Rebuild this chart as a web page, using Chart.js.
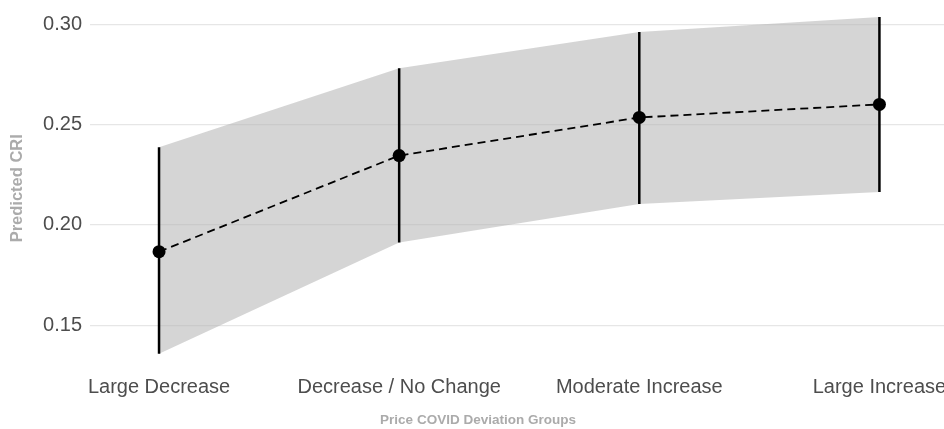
<!DOCTYPE html>
<html>
<head>
<meta charset="utf-8">
<script src="https://cdn.jsdelivr.net/npm/chart.js@4.4.1/dist/chart.umd.min.js"></script>
<style>
  html, body { margin: 0; padding: 0; background: #fff; overflow: hidden; }
  #wrap { width: 1030px; height: 429px; position: relative; }
</style>
</head>
<body>
<div id="wrap"><canvas id="criChart"></canvas></div>
<script>
const categories = ['Large Decrease', 'Decrease / No Change', 'Moderate Increase', 'Large Increase'];
const predicted = [0.1866, 0.2345, 0.2535, 0.2600];
const lower = [0.1358, 0.1912, 0.2104, 0.2164];
const upper = [0.2386, 0.2780, 0.2961, 0.3036];
const yTicks = [0.15, 0.20, 0.25, 0.30];

const xTitle = 'Price COVID Deviation Groups';
const yTitle = 'Predicted CRI';

const toXY = (arr) => arr.map((v, i) => ({ x: i, y: v }));

// one short vertical segment per group for the error bars
const errorBars = categories.map((c, i) => ({
    data: [{ x: i, y: lower[i] }, { x: i, y: upper[i] }],
    borderColor: '#000',
    borderWidth: 2.5,
    pointRadius: 0,
    fill: false,
    order: 1
}));

const xTitlePlugin = {
    id: 'xTitlePlugin',
    afterDraw(chart) {
        const ctx = chart.ctx;
        ctx.save();
        ctx.font = 'bold 13.5px "Liberation Sans", Arial, sans-serif';
        ctx.fillStyle = '#ababab';
        ctx.textAlign = 'center';
        ctx.textBaseline = 'middle';
        ctx.fillText(xTitle, 478, 420);
        ctx.restore();
    }
};

document.addEventListener('DOMContentLoaded', function () {
    const ctx = document.getElementById('criChart').getContext('2d');

    new Chart(ctx, {
        type: 'line',
        data: {
            datasets: [
                {
                    data: toXY(upper),
                    borderWidth: 0,
                    pointRadius: 0,
                    backgroundColor: 'rgba(179,179,179,0.55)',
                    fill: '+1',
                    order: 3
                },
                {
                    data: toXY(lower),
                    borderWidth: 0,
                    pointRadius: 0,
                    fill: false,
                    order: 3
                },
                {
                    data: toXY(predicted),
                    borderColor: '#000',
                    borderWidth: 1.8,
                    borderDash: [8, 5],
                    pointRadius: 6.5,
                    pointBorderWidth: 0,
                    pointBackgroundColor: '#000',
                    fill: false,
                    order: 0
                },
                ...errorBars
            ]
        },
        options: {
            responsive: true,
            maintainAspectRatio: false,
            animation: false,
            layout: { padding: 0 },
            plugins: {
                legend: { display: false },
                tooltip: { enabled: false }
            },
            scales: {
                x: {
                    type: 'linear',
                    min: -0.2875,
                    max: 3.6,
                    grid: { display: false, drawTicks: false },
                    border: { display: false },
                    afterBuildTicks: (axis) => {
                        axis.ticks = categories.map((c, i) => ({ value: i }));
                    },
                    afterFit: (axis) => {
                        axis.height = 59;
                        axis.paddingLeft = 0;
                        axis.paddingRight = 0;
                    },
                    ticks: {
                        autoSkip: false,
                        maxRotation: 0,
                        padding: 5,
                        color: '#4d4d4d',
                        font: { family: '"Liberation Sans", Arial, sans-serif', size: 20 },
                        callback: (v) => categories[v]
                    }
                },
                y: {
                    min: 0.12765,
                    max: 0.3088,
                    grid: { color: '#e6e6e6', lineWidth: 1.2, drawTicks: false },
                    border: { display: false },
                    afterBuildTicks: (axis) => {
                        axis.ticks = yTicks.map(v => ({ value: v }));
                    },
                    afterFit: (axis) => {
                        axis.width = 90;
                        axis.paddingTop = 0;
                        axis.paddingBottom = 0;
                    },
                    ticks: {
                        padding: 8,
                        color: '#4d4d4d',
                        font: { family: '"Liberation Sans", Arial, sans-serif', size: 20 },
                        callback: (v) => v.toFixed(2)
                    },
                    title: {
                        display: true,
                        text: yTitle,
                        color: '#ababab',
                        padding: { top: 7.5, bottom: 0 },
                        font: { family: '"Liberation Sans", Arial, sans-serif', size: 16.5, weight: 'bold' }
                    }
                }
            }
        },
        plugins: [xTitlePlugin]
    });
});
</script>
</body>
</html>
